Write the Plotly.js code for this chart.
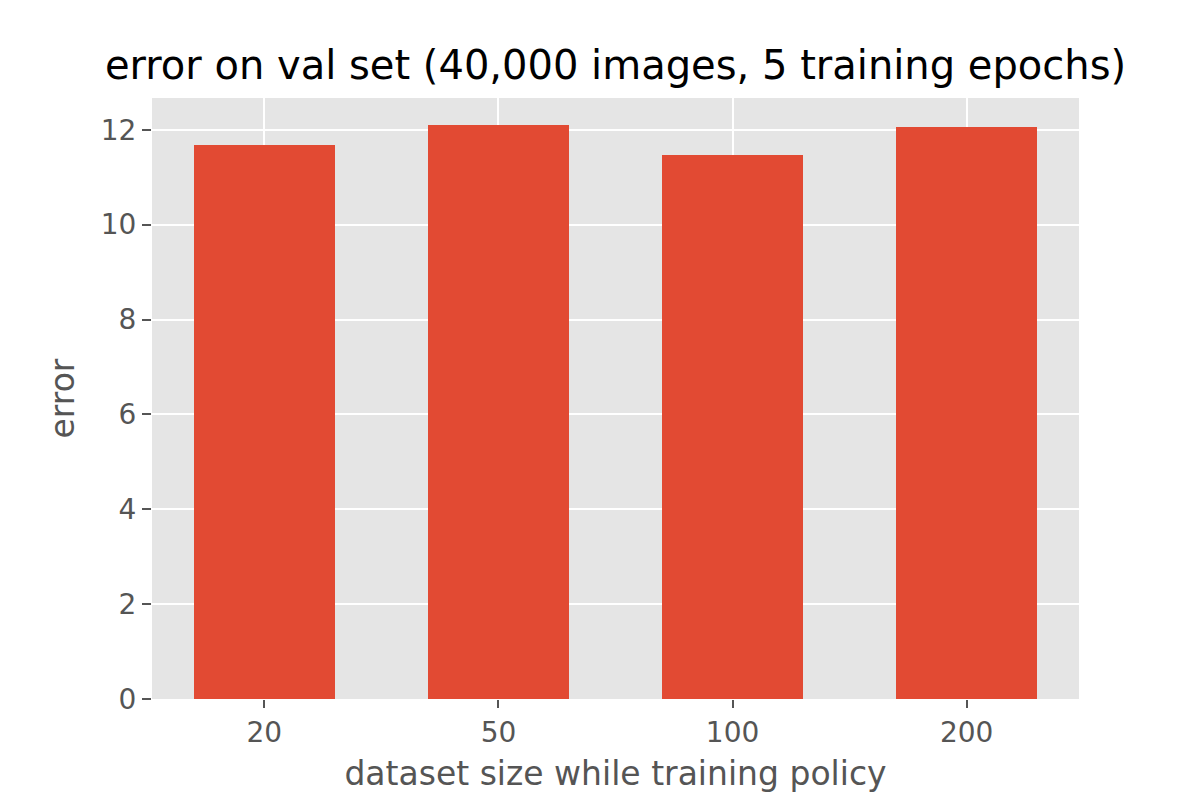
<!DOCTYPE html>
<html>
<head>
<meta charset="utf-8">
<script src="https://cdn.plot.ly/plotly-3.0.1.min.js"></script>
<style>
  body { margin: 0; background: #fff; }
  #chart { width: 1200px; height: 800px; }
</style>
</head>
<body>
<div id="chart"></div>
<script>
// dataset sizes used while training the policy
const sizes = ['20', '50', '100', '200'];
// validation error for each size
const errors = [11.68, 12.10, 11.47, 12.06];

const yTicks = [0, 2, 4, 6, 8, 10, 12];

const barTrace = {
    x: sizes,
    y: errors,
    type: 'bar',
    width: 0.6,
    marker: {color: '#E24A33', line: {width: 0}},
    hoverinfo: 'x+y',
};

const layout = {
    width: 1200,
    height: 800,
    paper_bgcolor: '#ffffff',
    plot_bgcolor: '#E5E5E5',
    font: {family: 'DejaVu Sans, sans-serif', color: '#555555', size: 28},
    margin: {l: 152, r: 121, t: 98, b: 101},
    showlegend: false,
    title: {
        text: 'error on val set (40,000 images, 5 training epochs)',
        font: {size: 40, color: '#000000'},
        x: 0.5,
        xref: 'paper',
        y: 1 - 65 / 800,
        yref: 'container',
        yanchor: 'middle',
    },
    xaxis: {
        type: 'category',
        range: [-0.48, 3.48],
        showgrid: true,
        gridcolor: '#ffffff',
        gridwidth: 2,
        zeroline: false,
        showline: false,
        ticks: 'outside',
        ticklen: 8,
        tickwidth: 2,
        tickcolor: '#555555',
        tickfont: {size: 28, color: '#555555'},
        title: {text: 'dataset size while training policy', font: {size: 33, color: '#555555'}, standoff: 14},
    },
    yaxis: {
        range: [0, 12.67],
        tickvals: yTicks,
        ticktext: yTicks.map(String),
        showgrid: true,
        gridcolor: '#ffffff',
        gridwidth: 2,
        zeroline: false,
        showline: false,
        ticks: 'outside',
        ticklen: 9,
        tickwidth: 2,
        tickcolor: '#555555',
        tickfont: {size: 28, color: '#555555'},
        title: {text: 'error', font: {size: 33, color: '#555555'}, standoff: 16},
    },
    bargap: 0,
};

const config = {
    displayModeBar: false,
    responsive: false,
};

Plotly.newPlot(document.getElementById('chart'), [barTrace], layout, config);
</script>
</body>
</html>
